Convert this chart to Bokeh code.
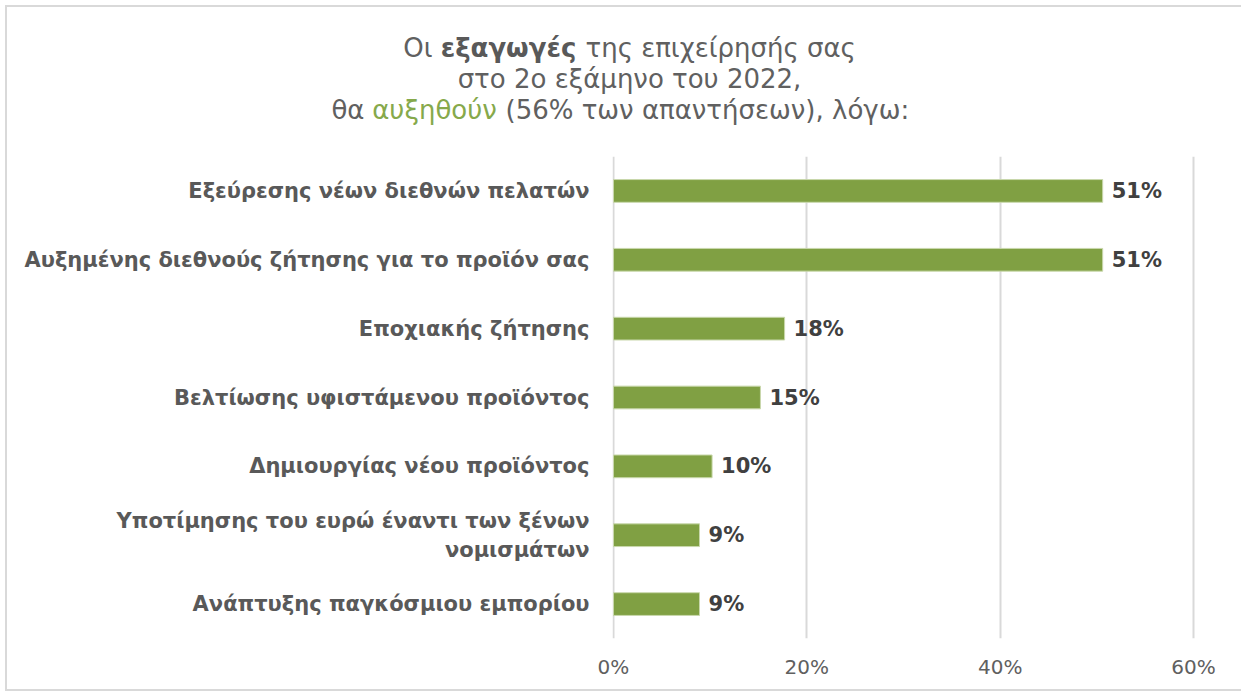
from bokeh.plotting import figure
from bokeh.layouts import column
from bokeh.models import FactorRange, Range1d, FixedTicker, PrintfTickFormatter
from bokeh.core.properties import value
from bokeh.embed import file_html
from bokeh.resources import INLINE

# ---- data ----
categories = [
    "Εξεύρεσης νέων διεθνών πελατών",
    "Αυξημένης διεθνούς ζήτησης για το προϊόν σας",
    "Εποχιακής ζήτησης",
    "Βελτίωσης υφιστάμενου προϊόντος",
    "Δημιουργίας νέου προϊόντος",
    "Υποτίμησης του ευρώ έναντι των ξένων\nνομισμάτων",
    "Ανάπτυξης παγκόσμιου εμπορίου",
]
values = [50.6, 50.6, 17.7, 15.2, 10.2, 8.9, 8.9]
x_ticks = [0, 20, 40, 60]
bar_labels = [f"{v:.0f}%" for v in values]

title_line1 = ["Οι", "εξαγωγές", "της επιχείρησής σας"]
title_line2 = "στο 2ο εξάμηνο του 2022,"
title_line3 = ["θα", "αυξηθούν", "(56% των απαντήσεων), λόγω:"]

FONT = "DejaVu Sans"
GRAY = "#595959"
TITLE_GRAY = "#606060"
GREEN = "#80A043"
BORDER = "#D9D9D9"
W = 1241
TH = 148
MH = 543

# ---- title figure (pixel coordinates) ----
t = figure(width=W, height=TH, x_range=Range1d(0, W), y_range=Range1d(0, TH),
           output_backend="svg", toolbar_location=None, min_border=0)
t.axis.visible = False
t.grid.visible = False
t.outline_line_color = None
t.background_fill_color = None
t.border_fill_color = None
if hasattr(t, "frame_align"):
    t.frame_align = False
t.styles = {"box-shadow": f"inset 5px 5px 0 0 #FFFFFF, inset 7px 7px 0 0 {BORDER}"}

common = dict(text_font=value(FONT), text_font_size="26px", text_baseline="middle")
t.text(x=[432], y=[101], text=[title_line1[0]], text_align="right", text_color=TITLE_GRAY, **common)
t.text(x=[508], y=[101], text=[title_line1[1]], text_align="center", text_color=GRAY,
       text_font_style="bold", **common)
t.text(x=[585], y=[101], text=[title_line1[2]], text_align="left", text_color=TITLE_GRAY, **common)
t.text(x=[629], y=[70], text=[title_line2], text_align="center", text_color=TITLE_GRAY, **common)
t.text(x=[364], y=[39], text=[title_line3[0]], text_align="right", text_color=TITLE_GRAY, **common)
t.text(x=[434], y=[39], text=[title_line3[1]], text_align="center", text_color="#86A94B", **common)
t.text(x=[505], y=[39], text=[title_line3[2]], text_align="left", text_color=TITLE_GRAY, **common)

# ---- main chart ----
p = figure(width=W, height=MH, y_range=FactorRange(*reversed(categories)),
           x_range=Range1d(-0.1, 60.2), output_backend="svg", toolbar_location=None,
           min_border_left=612, min_border_right=46, min_border_top=8, min_border_bottom=53)
p.outline_line_color = None
p.border_fill_color = None
p.background_fill_color = "white"
if hasattr(p, "frame_align"):
    p.frame_align = False
p.styles = {"box-shadow": f"inset 5px 0 0 0 #FFFFFF, inset 7px 0 0 0 {BORDER}, "
                          f"inset 0 -2px 0 0 {BORDER}"}

p.hbar(y=categories, left=0, right=values, height=0.33,
       fill_color=GREEN, line_color="#C9D8AC", line_width=1)
p.text(x=values, y=categories, text=bar_labels, x_offset=9, text_baseline="middle",
       text_align="left", text_font=value(FONT), text_font_style="bold",
       text_font_size="21px", text_color="#404040")

p.xaxis.ticker = FixedTicker(ticks=x_ticks)
p.xaxis.formatter = PrintfTickFormatter(format="%d%%")
p.xaxis.axis_line_color = None
p.xaxis.major_tick_line_color = None
p.xaxis.minor_tick_line_color = None
p.xaxis.major_label_text_font = FONT
p.xaxis.major_label_text_font_size = "20px"
p.xaxis.major_label_text_color = TITLE_GRAY
p.xaxis.major_label_standoff = 10

p.yaxis.axis_line_color = None
p.yaxis.major_tick_line_color = None
p.yaxis.minor_tick_line_color = None
p.yaxis.major_label_text_font = FONT
p.yaxis.major_label_text_font_style = "bold"
p.yaxis.major_label_text_font_size = "21px"
p.yaxis.major_label_text_color = GRAY
p.yaxis.major_label_standoff = 17

p.xgrid.grid_line_color = BORDER
p.xgrid.grid_line_width = 2
p.ygrid.grid_line_color = None

layout = column(t, p)

open("out.html", "w").write(file_html(layout, INLINE))
